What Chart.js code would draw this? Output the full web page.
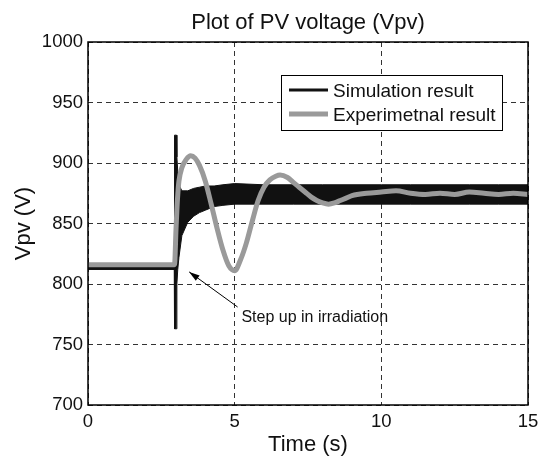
<!DOCTYPE html>
<html lang="en">
<head>
<meta charset="UTF-8">
<title>Plot of PV voltage (Vpv)</title>
<script src="https://cdn.jsdelivr.net/npm/chart.js"></script>
<style>
    html, body {
        margin: 0;
        padding: 0;
        background: #fff;
    }

    #wrap {
        position: relative;
        width: 539px;
        height: 457px;
    }
</style>
</head>
<body>
<div id="wrap"><canvas id="vpvChart"></canvas></div>

<script>
    // values
    const xTickValues = [0, 5, 10, 15];
    const yTickValues = [700, 750, 800, 850, 900, 950, 1000];

    // simulation result: thick ripple band, kept as lower/upper envelope
    const simTime  = [0,   1.5, 2.94, 2.95, 3.02, 3.03, 3.06, 3.1, 3.2, 3.4, 3.6, 3.8, 4.0, 4.3, 4.6, 5.0, 6.0, 7.0, 8.0, 9.0, 10.0, 11.0, 12.0, 13.0, 14.0, 15.0];
    const simLower = [812, 812, 812,  763,  763,  800,  812,  822, 840, 851, 856, 859, 861, 864, 865, 866, 866, 866, 866, 866, 866,  866,  866,  866,  866,  866];
    const simUpper = [814, 814, 814,  923,  923,  905,  893,  882, 877, 877, 879, 880, 881, 881, 882, 883, 882, 882, 882, 882, 882,  882,  882,  882,  882,  882];

    // experimental result (grey)
    const expTime = [0,   2.95, 3.0, 3.05, 3.1, 3.2, 3.35, 3.5, 3.65, 3.8, 4.0, 4.2, 4.4, 4.6, 4.8, 5.0, 5.2, 5.4, 5.6, 5.8, 6.0, 6.2, 6.4, 6.55, 6.8, 7.0, 7.2, 7.4, 7.6, 7.8, 8.0, 8.2, 8.4, 8.6, 8.8, 9.0, 9.5, 10.0, 10.5, 11.0, 11.5, 12.0, 12.5, 13.0, 13.5, 14.0, 14.5, 15.0];
    const expVpv  = [816, 816,  845, 870,  885, 896, 903,  906, 904,  898, 885, 866, 846, 828, 815, 811, 820, 834, 852, 869, 880, 886, 889, 890,  888, 884, 880, 876, 872, 869, 867, 866, 867, 869, 871, 873, 875, 876,  877,  875,  874,  875,  874,  876,  875,  874,  875,  874];

    // annotation anchors, in data units
    const arrowTip  = { x: 3.45, y: 810 };
    const arrowTail = { x: 5.1, y: 781 };
    const noteAt    = { x: 5.23, y: 772.5 };

    const FONT = "'Liberation Sans', Arial, Helvetica, sans-serif";

    const toPoints = (xs, ys) => xs.map((t, i) => ({ x: t, y: ys[i] }));

    // title, axis labels, box, legend and the arrow note
    const decorations = {
        id: 'decorations',
        afterDraw(chart) {
            const { ctx, chartArea: a, scales: { x, y } } = chart;
            ctx.save();

            // full axes box
            ctx.strokeStyle = '#000';
            ctx.lineWidth = 1.5;
            ctx.strokeRect(a.left, a.top, a.right - a.left, a.bottom - a.top);

            ctx.fillStyle = '#111';
            ctx.textAlign = 'center';
            ctx.textBaseline = 'alphabetic';
            ctx.font = '22px ' + FONT;
            ctx.fillText('Plot of PV voltage (Vpv)', (a.left + a.right) / 2, 29);
            ctx.fillText('Time (s)', (a.left + a.right) / 2, 451);

            ctx.save();
            ctx.translate(30, (a.top + a.bottom) / 2);
            ctx.rotate(-Math.PI / 2);
            ctx.fillText('Vpv (V)', 0, 0);
            ctx.restore();

            // arrow + note
            const tx = x.getPixelForValue(arrowTip.x), ty = y.getPixelForValue(arrowTip.y);
            const sx = x.getPixelForValue(arrowTail.x), sy = y.getPixelForValue(arrowTail.y);
            ctx.strokeStyle = '#000';
            ctx.lineWidth = 1;
            ctx.beginPath();
            ctx.moveTo(sx, sy);
            ctx.lineTo(tx, ty);
            ctx.stroke();
            const ang = Math.atan2(ty - sy, tx - sx);
            ctx.fillStyle = '#000';
            ctx.beginPath();
            ctx.moveTo(tx, ty);
            ctx.lineTo(tx - 11 * Math.cos(ang - 0.3), ty - 11 * Math.sin(ang - 0.3));
            ctx.lineTo(tx - 11 * Math.cos(ang + 0.3), ty - 11 * Math.sin(ang + 0.3));
            ctx.closePath();
            ctx.fill();

            ctx.fillStyle = '#111';
            ctx.textAlign = 'left';
            ctx.textBaseline = 'middle';
            ctx.font = '16px ' + FONT;
            ctx.fillText('Step up in irradiation', x.getPixelForValue(noteAt.x), y.getPixelForValue(noteAt.y));

            // legend box
            const bx = a.right - 247, by = a.top + 33, bw = 221, bh = 55;
            ctx.fillStyle = '#fff';
            ctx.fillRect(bx, by, bw, bh);
            ctx.strokeStyle = '#000';
            ctx.lineWidth = 1;
            ctx.strokeRect(bx + 0.5, by + 0.5, bw, bh);

            const entries = chart.data.datasets.filter(d => d.inLegend);
            entries.sort((p, q) => p.legendRank - q.legendRank);
            entries.forEach((d, i) => {
                const ly = by + 15 + i * 24;
                ctx.strokeStyle = d.legendColor;
                ctx.lineWidth = d.legendWidth;
                ctx.beginPath();
                ctx.moveTo(bx + 8, ly);
                ctx.lineTo(bx + 47, ly);
                ctx.stroke();
                ctx.fillStyle = '#111';
                ctx.textBaseline = 'alphabetic';
                ctx.font = '19px ' + FONT;
                ctx.fillText(d.label, bx + 52, ly + 7);
            });

            ctx.restore();
        }
    };

    const config = {
        type: 'line',
        data: {
            datasets: [
                {
                    // drawn last (on top)
                    label: 'Experimetnal result',
                    inLegend: true,
                    legendRank: 2,
                    legendColor: '#9a9a9a',
                    legendWidth: 5,
                    data: toPoints(expTime, expVpv),
                    borderColor: '#9a9a9a',
                    borderWidth: 5,
                    pointRadius: 0,
                    fill: false,
                    cubicInterpolationMode: 'monotone',
                    borderCapStyle: 'round',
                    borderJoinStyle: 'round'
                },
                {
                    label: 'Simulation lower',
                    data: toPoints(simTime, simLower),
                    borderColor: '#111',
                    borderWidth: 1,
                    pointRadius: 0,
                    fill: false,
                    tension: 0
                },
                {
                    label: 'Simulation result',
                    inLegend: true,
                    legendRank: 1,
                    legendColor: '#111',
                    legendWidth: 3,
                    data: toPoints(simTime, simUpper),
                    borderColor: '#111',
                    backgroundColor: '#111',
                    borderWidth: 1,
                    pointRadius: 0,
                    fill: '-1',
                    tension: 0
                }
            ]
        },
        options: {
            responsive: false,
            animation: false,
            layout: { padding: { top: 42, right: 11, left: 0, bottom: 0 } },
            plugins: {
                legend: { display: false },
                title: { display: false },
                tooltip: { enabled: false }
            },
            scales: {
                x: {
                    type: 'linear',
                    min: xTickValues[0],
                    max: xTickValues[xTickValues.length - 1],
                    afterBuildTicks: s => { s.ticks = xTickValues.map(v => ({ value: v })); },
                    afterFit: s => { s.height = 52; s.paddingLeft = 0; s.paddingRight = 0; },
                    grid: { color: '#333', lineWidth: 1, drawTicks: false },
                    border: { display: false, dash: [5, 4] },
                    ticks: { color: '#111', font: { family: FONT, size: 18.5 }, padding: 6, maxRotation: 0, callback: v => String(v) }
                },
                y: {
                    type: 'linear',
                    min: yTickValues[0],
                    max: yTickValues[yTickValues.length - 1],
                    afterBuildTicks: s => { s.ticks = yTickValues.map(v => ({ value: v })); },
                    afterFit: s => { s.width = 88; s.paddingTop = 0; s.paddingBottom = 0; },
                    grid: { color: '#333', lineWidth: 1, drawTicks: false },
                    border: { display: false, dash: [5, 4] },
                    ticks: { color: '#111', font: { family: FONT, size: 18.5 }, padding: 5, callback: v => String(v) }
                }
            }
        },
        plugins: [decorations]
    };

    const canvas = document.getElementById('vpvChart');
    canvas.width = 539;
    canvas.height = 457;
    new Chart(canvas, config);
</script>
</body>
</html>
